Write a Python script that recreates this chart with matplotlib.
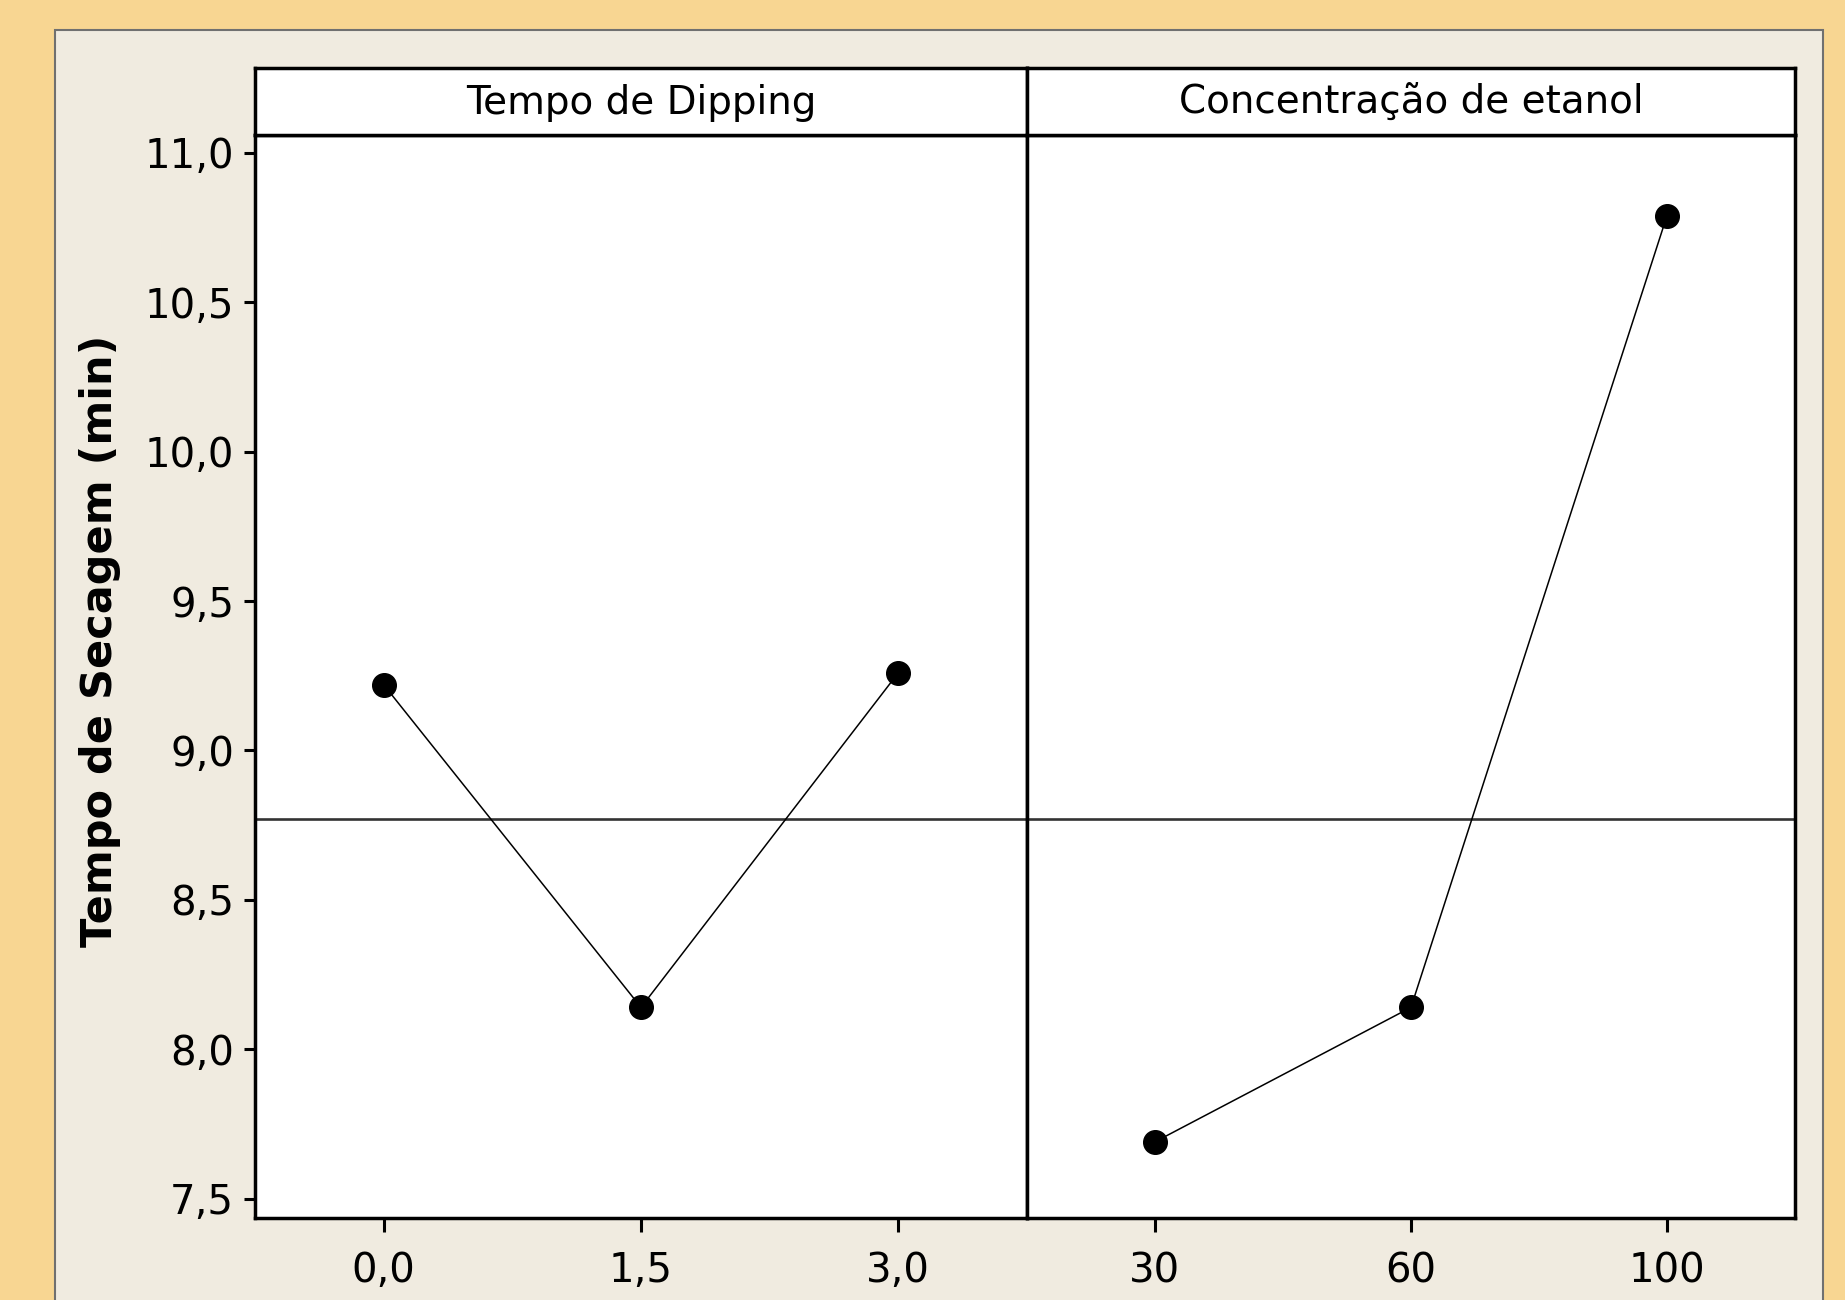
import matplotlib.pyplot as plt
from matplotlib.patches import Rectangle
from matplotlib.ticker import FuncFormatter

# Main effects data (means)
dipping_levels = ['0,0', '1,5', '3,0']
dipping_means = [9.22, 8.14, 9.26]
etanol_levels = ['30', '60', '100']
etanol_means = [7.69, 8.14, 10.79]
grand_mean = 8.77
panel_titles = ['Tempo de Dipping', 'Concentração de etanol']
y_ticks = [7.5, 8.0, 8.5, 9.0, 9.5, 10.0, 10.5, 11.0]

plt.rcParams['font.family'] = ['DejaVu Sans']

W, H = 1845, 1300
fig = plt.figure(figsize=(W / 100, H / 100), dpi=100)
fig.patch.set_facecolor('#F8D692')

# beige panel behind the plot
fig.patches.append(Rectangle((55 / W, -0.05), (1823 - 55) / W, 1 - 30 / H + 0.05,
                             transform=fig.transFigure, facecolor='#F0EBE0',
                             edgecolor='#707070', linewidth=1.5, zorder=-5))

bottom = 1 - 1218 / H
top = 1 - 135 / H
strip_top = 1 - 68 / H
lefts = [255 / W, 1027 / W]
widths = [(1027 - 255) / W, (1795 - 1027) / W]

series = [(dipping_levels, dipping_means), (etanol_levels, etanol_means)]

fmt = FuncFormatter(lambda v, p: f'{v:.1f}'.replace('.', ','))

for i in range(2):
    ax = fig.add_axes([lefts[i], bottom, widths[i], top - bottom])
    levels, means = series[i]
    pos = list(range(1, len(levels) + 1))
    ax.plot(pos, means, color='black', linewidth=1.1, marker='o',
            markersize=17, markerfacecolor='black', zorder=3)
    ax.axhline(grand_mean, color='#333333', linewidth=1.9, zorder=2)
    ax.set_xlim(0.5, 3.5)
    ax.set_ylim(7.435, 11.06)
    ax.set_xticks(pos)
    ax.set_xticklabels(levels)
    ax.set_yticks(y_ticks)
    ax.yaxis.set_major_formatter(fmt)
    ax.tick_params(axis='x', length=10, width=2.2, labelsize=29, pad=14)
    ax.tick_params(axis='y', length=8, width=2.2, labelsize=29, pad=7)
    if i == 1:
        ax.tick_params(axis='y', left=False, labelleft=False)
    for s in ax.spines.values():
        s.set_linewidth(2.5)
        s.set_color('black')
    ax.set_facecolor('white')

    # strip header
    sax = fig.add_axes([lefts[i], top, widths[i], strip_top - top])
    sax.set_xticks([])
    sax.set_yticks([])
    sax.set_facecolor('white')
    for s in sax.spines.values():
        s.set_linewidth(2.5)
        s.set_color('black')
    sax.text(0.5, 0.48, panel_titles[i], ha='center', va='center',
             fontsize=28, transform=sax.transAxes)

fig.text(100 / W, 1 - 641 / H, 'Tempo de Secagem (min)', rotation=90,
         ha='center', va='center', fontsize=31, fontweight='bold')

fig.savefig('out.png', dpi=100, facecolor=fig.get_facecolor())
